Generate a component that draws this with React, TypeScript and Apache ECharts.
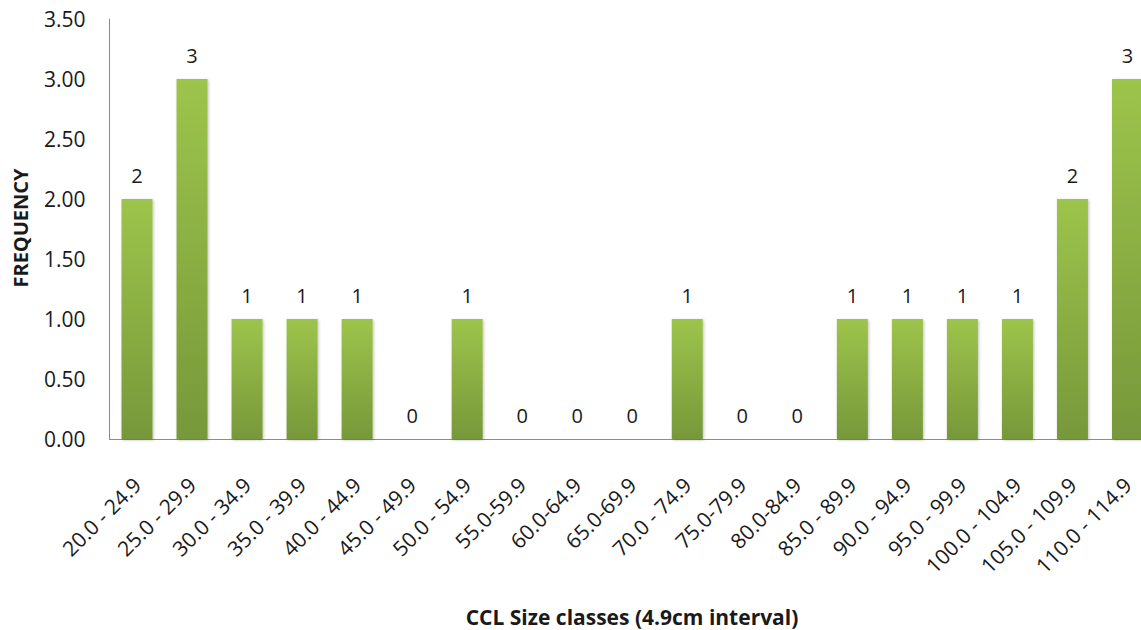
import React, { useEffect, useRef } from "react";
import * as echarts from "echarts";

const categories = [
  "20.0 - 24.9", "25.0 - 29.9", "30.0 - 34.9", "35.0 - 39.9", "40.0 - 44.9",
  "45.0 - 49.9", "50.0 - 54.9", "55.0-59.9", "60.0-64.9", "65.0-69.9",
  "70.0 - 74.9", "75.0-79.9", "80.0-84.9", "85.0 - 89.9", "90.0 - 94.9",
  "95.0 - 99.9", "100.0 - 104.9", "105.0 - 109.9", "110.0 - 114.9",
];
const frequency = [2, 3, 1, 1, 1, 0, 1, 0, 0, 0, 1, 0, 0, 1, 1, 1, 1, 2, 3];
const yTitle = "FREQUENCY";
const xTitle = "CCL Size classes (4.9cm interval)";

const FONT = "'Open Sans', 'Noto Sans', sans-serif";

export default function App() {
  const ref = useRef<HTMLDivElement>(null);
  useEffect(() => {
    if (!ref.current) return;
    const chart = echarts.init(ref.current, undefined, { renderer: "svg" });
    chart.setOption({
      animation: false,
      backgroundColor: "#ffffff",
      grid: { left: 109.5, right: 0, top: 19, bottom: 191, containLabel: false },
      xAxis: {
        type: "category",
        data: categories,
        axisLine: { show: true, lineStyle: { color: "#8c8c8c", width: 1 } },
        axisTick: { show: false },
        axisLabel: {
          rotate: 45,
          interval: 0,
          margin: 42,
          fontSize: 21,
          fontFamily: FONT,
          color: "#1a1a1a",
        },
      },
      yAxis: {
        type: "value",
        min: 0,
        max: 3.5,
        interval: 0.5,
        splitLine: { show: false },
        axisLine: { show: true, lineStyle: { color: "#8c8c8c", width: 1 } },
        axisTick: { show: false },
        axisLabel: {
          formatter: (v: number) => v.toFixed(2),
          fontSize: 21,
          fontFamily: FONT,
          color: "#1a1a1a",
          margin: 24,
        },
      },
      series: [
        {
          type: "bar",
          data: frequency,
          barWidth: 31,
          itemStyle: {
            color: new echarts.graphic.LinearGradient(0, 0, 0, 1, [
              { offset: 0, color: "#9dc44b" },
              { offset: 1, color: "#77983a" },
            ]),
            shadowColor: "rgba(0,0,0,0.25)",
            shadowBlur: 3,
            shadowOffsetX: 1,
            shadowOffsetY: 1,
          },
          label: {
            show: true,
            position: "top",
            distance: 14,
            fontSize: 20,
            fontFamily: FONT,
            color: "#1a1a1a",
          },
        },
      ],
      graphic: [
        {
          type: "text",
          x: 20,
          y: 228,
          rotation: Math.PI / 2,
          style: {
            text: yTitle,
            fontSize: 20,
            fontWeight: "bold",
            fontFamily: FONT,
            fill: "#1a1a1a",
            align: "center",
            verticalAlign: "middle",
          },
        },
        {
          type: "text",
          x: 632,
          y: 617,
          style: {
            text: xTitle,
            fontSize: 21,
            fontWeight: "bold",
            fontFamily: FONT,
            fill: "#1a1a1a",
            align: "center",
            verticalAlign: "middle",
          },
        },
      ],
    });
    return () => chart.dispose();
  }, []);
  return (
    <div
      style={{
        position: "fixed",
        left: 0,
        top: 0,
        width: 1141,
        height: 630,
        overflow: "hidden",
        background: "#ffffff",
      }}
    >
      <div ref={ref} style={{ width: 1155, height: 630 }} />
    </div>
  );
}
